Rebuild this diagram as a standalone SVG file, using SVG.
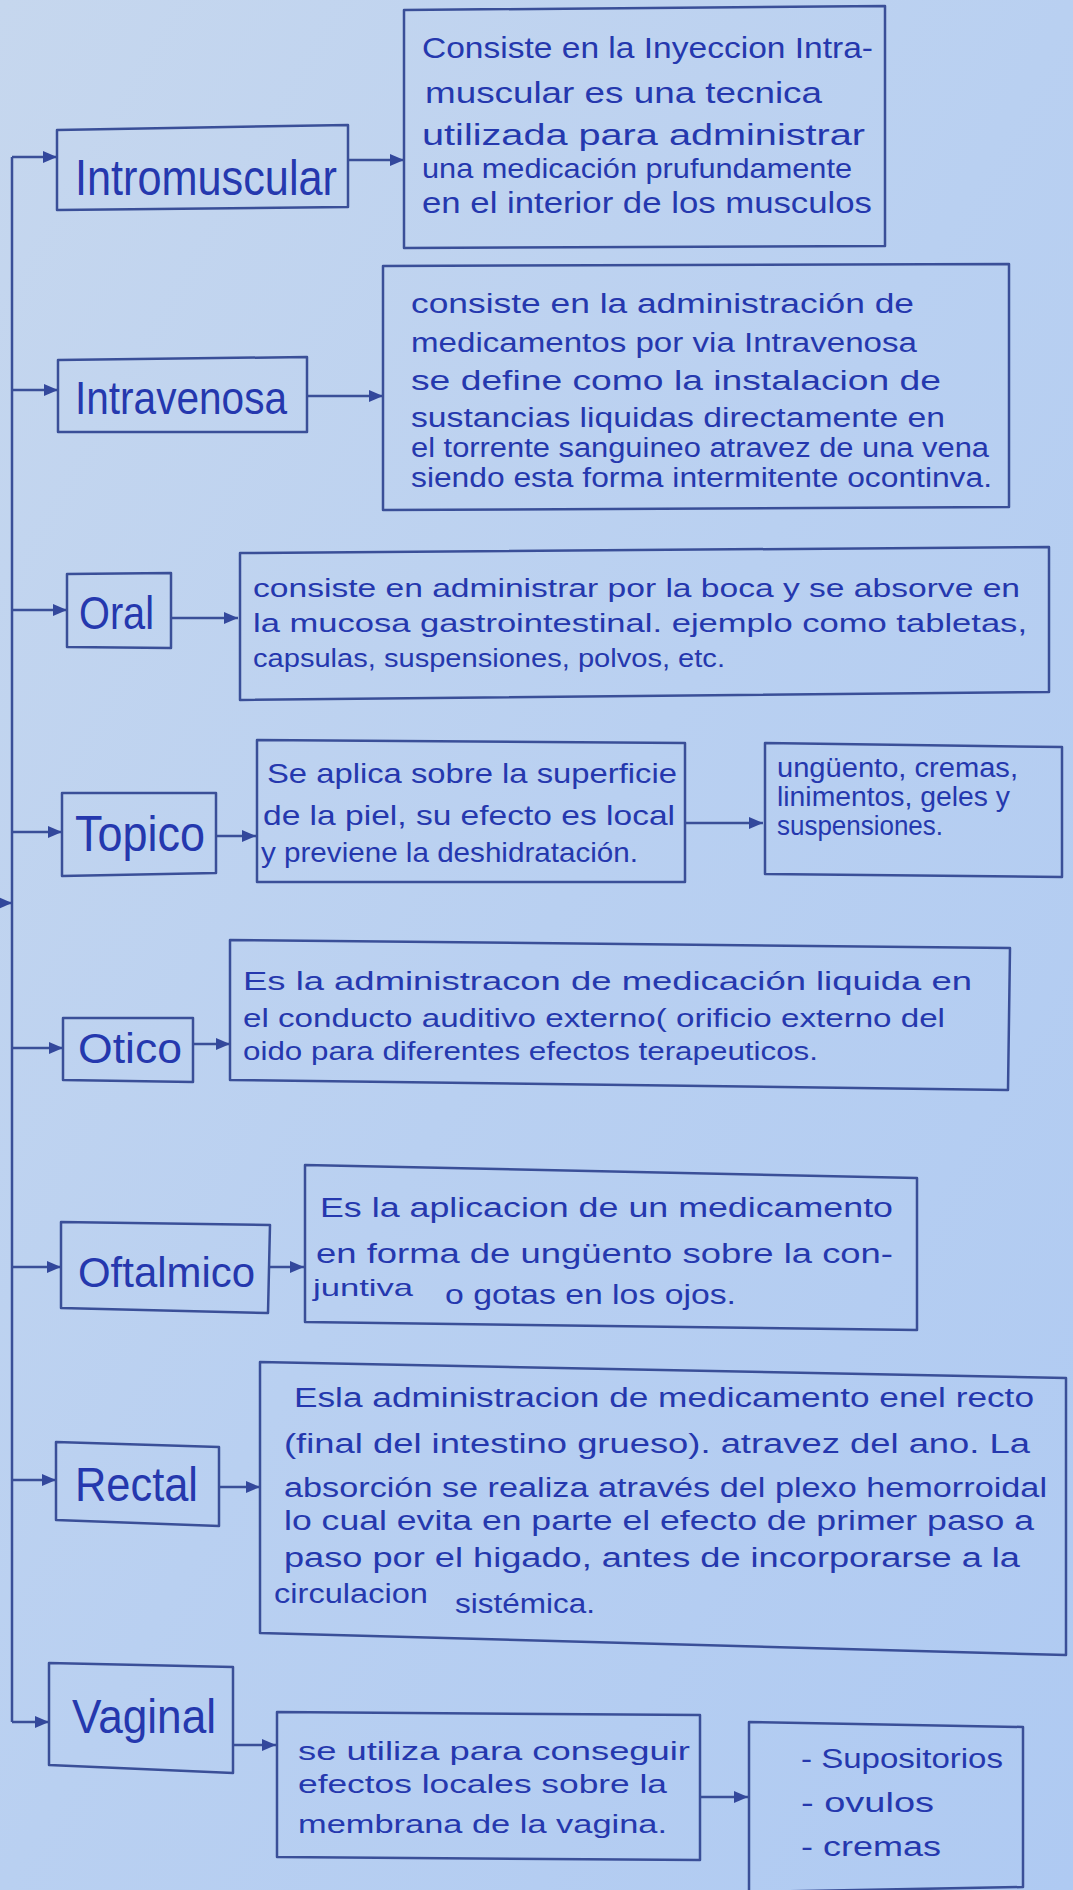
<svg xmlns="http://www.w3.org/2000/svg" width="1073" height="1890" viewBox="0 0 1073 1890">
<defs>
<linearGradient id="paper" x1="0" y1="0" x2="1" y2="1">
<stop offset="0" stop-color="#c6d7ee"/>
<stop offset="0.5" stop-color="#b9d0f1"/>
<stop offset="1" stop-color="#afcaf2"/>
</linearGradient>
<marker id="arr" markerUnits="userSpaceOnUse" markerWidth="16" markerHeight="12" refX="14" refY="6" orient="auto">
<path d="M0,0 L14,6 L0,12 Z" fill="#33489c"/>
</marker>
</defs>
<style>
.box{fill:none;stroke:#3a4f98;stroke-width:2.5;stroke-linejoin:round}
.con{fill:none;stroke:#3a4f98;stroke-width:2.5}
.t{font-family:"Liberation Sans",Arial,sans-serif;fill:#2538ae}
.ti{font-size:50px}
.d{font-size:27px}
</style>
<rect width="1073" height="1890" fill="url(#paper)"/>

<g id="connectors">
<path class="con" d="M12,157 L12,1722"/>
<path class="con" d="M-12,903 L12,903" marker-end="url(#arr)"/>
<path class="con" d="M12,157 L57,157" marker-end="url(#arr)"/>
<path class="con" d="M348,160 L404,160" marker-end="url(#arr)"/>
<path class="con" d="M12,390 L58,390" marker-end="url(#arr)"/>
<path class="con" d="M307,396 L383,396" marker-end="url(#arr)"/>
<path class="con" d="M12,610 L67,610" marker-end="url(#arr)"/>
<path class="con" d="M171,618 L238,618" marker-end="url(#arr)"/>
<path class="con" d="M12,832 L62,832" marker-end="url(#arr)"/>
<path class="con" d="M216,836 L256,836" marker-end="url(#arr)"/>
<path class="con" d="M685,823 L763,823" marker-end="url(#arr)"/>
<path class="con" d="M12,1048 L63,1048" marker-end="url(#arr)"/>
<path class="con" d="M193,1044 L230,1044" marker-end="url(#arr)"/>
<path class="con" d="M12,1267 L61,1267" marker-end="url(#arr)"/>
<path class="con" d="M270,1267 L304,1267" marker-end="url(#arr)"/>
<path class="con" d="M12,1480 L56,1480" marker-end="url(#arr)"/>
<path class="con" d="M219,1487 L260,1487" marker-end="url(#arr)"/>
<path class="con" d="M12,1722 L49,1722" marker-end="url(#arr)"/>
<path class="con" d="M233,1745 L276,1745" marker-end="url(#arr)"/>
<path class="con" d="M700,1797 L748,1797" marker-end="url(#arr)"/>
</g>

<g id="intramuscular">
<polygon class="box" points="57,130 348,125 348,207 57,210"/>
<text class="t ti" x="75" y="195" textLength="262" lengthAdjust="spacingAndGlyphs">Intromuscular</text>
</g>
<g id="intramuscular-desc">
<polygon class="box" points="404,10 885,6 885,246 404,248"/>
<text class="t" font-size="30" x="422" y="58" textLength="451" lengthAdjust="spacingAndGlyphs">Consiste en la Inyeccion Intra-</text>
<text class="t" font-size="30" x="425" y="103" textLength="397" lengthAdjust="spacingAndGlyphs">muscular es una tecnica</text>
<text class="t" font-size="30" x="422" y="145" textLength="443" lengthAdjust="spacingAndGlyphs">utilizada para administrar</text>
<text class="t" font-size="28" x="422" y="178" textLength="430" lengthAdjust="spacingAndGlyphs">una medicación prufundamente</text>
<text class="t" font-size="30" x="422" y="213" textLength="450" lengthAdjust="spacingAndGlyphs">en el interior de los musculos</text>
</g>

<g id="intravenosa">
<polygon class="box" points="58,360 307,357 307,432 58,432"/>
<text class="t" font-size="46" x="75" y="414" textLength="212" lengthAdjust="spacingAndGlyphs">Intravenosa</text>
</g>
<g id="intravenosa-desc">
<polygon class="box" points="383,266 1009,264 1009,507 383,510"/>
<text class="t d" x="411" y="313" textLength="503" lengthAdjust="spacingAndGlyphs">consiste en la administración de</text>
<text class="t d" x="411" y="352" textLength="506" lengthAdjust="spacingAndGlyphs">medicamentos por via Intravenosa</text>
<text class="t d" x="411" y="390" textLength="530" lengthAdjust="spacingAndGlyphs">se define como la instalacion de</text>
<text class="t d" x="411" y="427" textLength="534" lengthAdjust="spacingAndGlyphs">sustancias liquidas directamente en</text>
<text class="t d" x="411" y="457" textLength="578" lengthAdjust="spacingAndGlyphs">el torrente sanguineo atravez de una vena</text>
<text class="t d" x="411" y="487" textLength="581" lengthAdjust="spacingAndGlyphs">siendo esta forma intermitente ocontinva.</text>
</g>

<g id="oral">
<polygon class="box" points="67,574 171,573 171,648 67,647"/>
<text class="t" font-size="46" x="79" y="629" textLength="75" lengthAdjust="spacingAndGlyphs">Oral</text>
</g>
<g id="oral-desc">
<polygon class="box" points="240,553 1049,547 1049,692 240,700"/>
<text class="t" font-size="25" x="253" y="597" textLength="767" lengthAdjust="spacingAndGlyphs">consiste en administrar por la boca y se absorve en</text>
<text class="t" font-size="25" x="253" y="632" textLength="774" lengthAdjust="spacingAndGlyphs">la mucosa gastrointestinal. ejemplo como tabletas,</text>
<text class="t" font-size="25" x="253" y="667" textLength="472" lengthAdjust="spacingAndGlyphs">capsulas, suspensiones, polvos, etc.</text>
</g>

<g id="topico">
<polygon class="box" points="62,793 216,793 216,873 62,876"/>
<text class="t" font-size="50" x="75" y="851" textLength="130" lengthAdjust="spacingAndGlyphs">Topico</text>
</g>
<g id="topico-desc">
<polygon class="box" points="257,740 685,743 685,882 257,882"/>
<text class="t" font-size="28" x="267" y="783" textLength="410" lengthAdjust="spacingAndGlyphs">Se aplica sobre la superficie</text>
<text class="t" font-size="28" x="263" y="825" textLength="412" lengthAdjust="spacingAndGlyphs">de la piel, su efecto es local</text>
<text class="t" font-size="28" x="261" y="862" textLength="377" lengthAdjust="spacingAndGlyphs">y previene la deshidratación.</text>
</g>
<g id="topico-list">
<polygon class="box" points="765,743 1062,747 1062,877 765,874"/>
<text class="t" font-size="27" x="777" y="777" textLength="241" lengthAdjust="spacingAndGlyphs">ungüento, cremas,</text>
<text class="t" font-size="27" x="777" y="806" textLength="233" lengthAdjust="spacingAndGlyphs">linimentos, geles y</text>
<text class="t" font-size="27" x="777" y="835" textLength="166" lengthAdjust="spacingAndGlyphs">suspensiones.</text>
</g>

<g id="otico">
<polygon class="box" points="63,1018 193,1018 193,1082 63,1080"/>
<text class="t" font-size="42" x="78" y="1063" textLength="104" lengthAdjust="spacingAndGlyphs">Otico</text>
</g>
<g id="otico-desc">
<polygon class="box" points="230,940 1010,948 1008,1090 230,1080"/>
<text class="t" font-size="26" x="243" y="990" textLength="729" lengthAdjust="spacingAndGlyphs">Es la administracon de medicación liquida en</text>
<text class="t" font-size="26" x="243" y="1027" textLength="702" lengthAdjust="spacingAndGlyphs">el conducto auditivo externo( orificio externo del</text>
<text class="t" font-size="26" x="243" y="1060" textLength="575" lengthAdjust="spacingAndGlyphs">oido para diferentes efectos terapeuticos.</text>
</g>

<g id="oftalmico">
<polygon class="box" points="61,1222 270,1225 268,1313 61,1308"/>
<text class="t" font-size="42" x="78" y="1287" textLength="177" lengthAdjust="spacingAndGlyphs">Oftalmico</text>
</g>
<g id="oftalmico-desc">
<polygon class="box" points="305,1165 917,1178 917,1330 305,1322"/>
<text class="t" font-size="27" x="320" y="1217" textLength="573" lengthAdjust="spacingAndGlyphs">Es la aplicacion de un medicamento</text>
<text class="t" font-size="27" x="316" y="1263" textLength="577" lengthAdjust="spacingAndGlyphs">en forma de ungüento sobre la con-</text>
<text class="t" font-size="24" x="313" y="1296" textLength="100" lengthAdjust="spacingAndGlyphs">juntiva</text>
<text class="t" font-size="27" x="445" y="1304" textLength="291" lengthAdjust="spacingAndGlyphs">o gotas en los ojos.</text>
</g>

<g id="rectal">
<polygon class="box" points="56,1442 219,1447 219,1526 56,1520"/>
<text class="t" font-size="48" x="75" y="1501" textLength="123" lengthAdjust="spacingAndGlyphs">Rectal</text>
</g>
<g id="rectal-desc">
<polygon class="box" points="260,1362 1066,1378 1066,1655 260,1633"/>
<text class="t" font-size="27" x="294" y="1407" textLength="740" lengthAdjust="spacingAndGlyphs">Esla administracion de medicamento enel recto</text>
<text class="t" font-size="27" x="284" y="1453" textLength="746" lengthAdjust="spacingAndGlyphs">(final del intestino grueso). atravez del ano. La</text>
<text class="t" font-size="27" x="284" y="1497" textLength="763" lengthAdjust="spacingAndGlyphs">absorción se realiza através del plexo hemorroidal</text>
<text class="t" font-size="27" x="284" y="1530" textLength="750" lengthAdjust="spacingAndGlyphs">lo cual evita en parte el efecto de primer paso a</text>
<text class="t" font-size="27" x="284" y="1567" textLength="736" lengthAdjust="spacingAndGlyphs">paso por el higado, antes de incorporarse a la</text>
<text class="t" font-size="27" x="274" y="1603" textLength="154" lengthAdjust="spacingAndGlyphs">circulacion</text>
<text class="t" font-size="27" x="455" y="1613" textLength="140" lengthAdjust="spacingAndGlyphs">sistémica.</text>
</g>

<g id="vaginal">
<polygon class="box" points="49,1663 233,1667 233,1773 49,1765"/>
<text class="t" font-size="48" x="72" y="1733" textLength="144" lengthAdjust="spacingAndGlyphs">Vaginal</text>
</g>
<g id="vaginal-desc">
<polygon class="box" points="277,1712 700,1715 700,1860 277,1857"/>
<text class="t" font-size="26" x="298" y="1760" textLength="392" lengthAdjust="spacingAndGlyphs">se utiliza para conseguir</text>
<text class="t" font-size="26" x="298" y="1793" textLength="369" lengthAdjust="spacingAndGlyphs">efectos locales sobre la</text>
<text class="t" font-size="26" x="298" y="1833" textLength="369" lengthAdjust="spacingAndGlyphs">membrana de la vagina.</text>
</g>
<g id="vaginal-list">
<polygon class="box" points="749,1722 1023,1727 1023,1887 749,1892"/>
<text class="t" font-size="27" x="801" y="1768" textLength="202" lengthAdjust="spacingAndGlyphs">- Supositorios</text>
<text class="t" font-size="27" x="801" y="1812" textLength="133" lengthAdjust="spacingAndGlyphs">- ovulos</text>
<text class="t" font-size="27" x="801" y="1856" textLength="140" lengthAdjust="spacingAndGlyphs">- cremas</text>
</g>
</svg>
